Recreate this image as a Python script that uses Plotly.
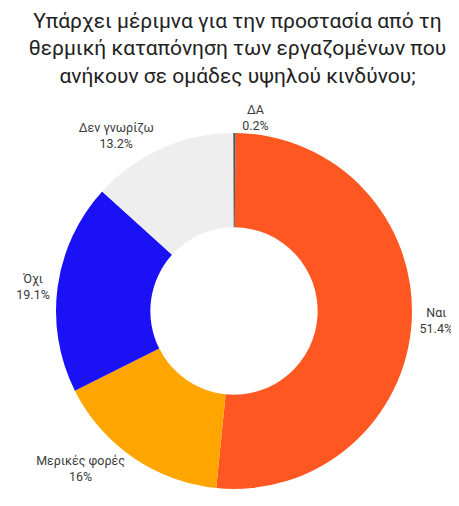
import plotly.graph_objects as go

labels = ["Ναι", "Μερικές φορές", "Όχι", "Δεν γνωρίζω", "ΔΑ"]
values = [51.4, 16, 19.1, 13.2, 0.2]
colors = ["#FF5722", "#FFA500", "#1A12F5", "#EEEEEE", "#555555"]
title = "Υπάρχει μέριμνα για την προστασία από τη<br>θερμική καταπόνηση των εργαζομένων που<br>ανήκουν σε ομάδες υψηλού κινδύνου;"

W, H = 459, 506
cx, cy, half = 226, 303, 178  # pie box centre and half-size in pixels

fig = go.Figure(go.Pie(
    labels=labels,
    values=values,
    sort=False,
    direction="clockwise",
    rotation=0.5,
    hole=0.47,
    domain=dict(x=[(cx - half) / W, (cx + half) / W],
                y=[1 - (cy + half) / H, 1 - (cy - half) / H]),
    marker=dict(colors=colors, line=dict(width=0)),
    texttemplate="%{label}<br>%{value}%",
    textposition="outside",
    textfont=dict(family="Roboto", size=12.5, color="#3a3a3a"),
    hoverinfo="label+value",
    showlegend=False,
))

fig.update_layout(
    width=W, height=H,
    paper_bgcolor="white",
    title=dict(text=title, x=0.5, xref="container", xanchor="center",
               y=1 - 20 / H, yref="container", yanchor="middle",
               font=dict(family="Roboto", size=21, color="#222222")),
    margin=dict(l=0, r=0, t=0, b=0),
    font=dict(family="Roboto"),
)

fig.write_html("out.html")
